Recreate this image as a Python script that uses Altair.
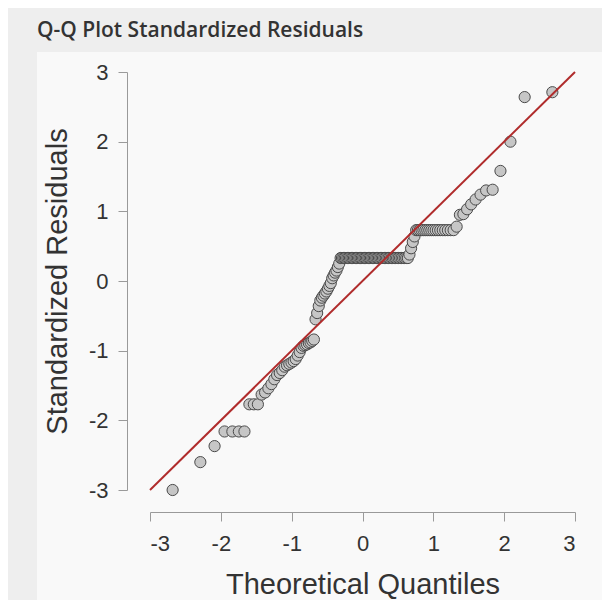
import altair as alt
import pandas as pd

chart_title = "Q-Q Plot Standardized Residuals"
x_title = "Theoretical Quantiles"
y_title = "Standardized Residuals"

# sorted standardized residuals (136 points)
residuals = (
    [-3.00, -2.60, -2.37]
    + [-2.16] * 4
    + [-1.77] * 3
    + [-1.63, -1.60, -1.54, -1.48, -1.41, -1.35, -1.32, -1.28, -1.23, -1.21,
       -1.19, -1.17, -1.15, -1.12, -1.07, -1.02, -0.96, -0.93, -0.92, -0.91,
       -0.89, -0.88, -0.86, -0.84]
    + [-0.55, -0.46, -0.36, -0.28, -0.24, -0.21, -0.18, -0.15, -0.11, -0.07,
       -0.03, 0.04, 0.08, 0.12, 0.15, 0.20, 0.25]
    + [0.33] * 50
    + [0.38, 0.47, 0.56, 0.64]
    + [0.73] * 18
    + [0.78, 0.95, 0.96, 1.03, 1.10, 1.17, 1.24, 1.30, 1.31, 1.58, 2.00, 2.64, 2.71]
)

ref_x = [-3, 3]
ref_y = [-3, 3]
x_ticks = [-3, -2, -1, 0, 1, 2, 3]
y_ticks = [-3, -2, -1, 0, 1, 2, 3]

W, H = 425, 418
PAD_L, PAD_T, PAD_R, PAD_B = 142, 64, 27, 110

df = pd.DataFrame({"resid": residuals})
line_df = pd.DataFrame({"x": ref_x, "y": ref_y})
panel_df = pd.DataFrame({"k": [0]})

FONT = "Liberation Sans"

xscale = alt.Scale(domain=[-3, 3], nice=False, zero=False)
yscale = alt.Scale(domain=[-3, 3], nice=False, zero=False)

xaxis = alt.Axis(values=x_ticks, offset=22, tickSize=9, grid=False, zindex=1,
                 domainColor="#9a9a9a", tickColor="#9a9a9a",
                 labelFontSize=22, labelColor="#333333", labelFont=FONT,
                 labelPadding=12, labelExpr="'' + datum.value",
                 title=x_title, titleFontSize=29, titleFont=FONT,
                 titleColor="#333333", titleFontWeight="normal", titlePadding=16)
yaxis = alt.Axis(values=y_ticks, offset=23, tickSize=9, grid=False, zindex=1,
                 domainColor="#9a9a9a", tickColor="#9a9a9a",
                 labelFontSize=22, labelColor="#333333", labelFont=FONT,
                 labelPadding=10, labelExpr="'' + datum.value",
                 title=y_title, titleFontSize=29, titleFont=FONT,
                 titleColor="#333333", titleFontWeight="normal", titlePadding=16)

panel = alt.Chart(panel_df).mark_rect(color="#f9f9f9").encode(
    x=alt.value(-113), x2=alt.value(W + PAD_R),
    y=alt.value(-20), y2=alt.value(H + PAD_B),
)

points = (
    alt.Chart(df)
    .transform_window(rank="row_number()", sort=[alt.SortField("resid", order="ascending")])
    .transform_joinaggregate(n="count()")
    .transform_calculate(theo="quantileNormal((datum.rank - 0.5) / datum.n)")
    .mark_circle(size=125, color="#c6c6c6", stroke="#4a4a4a", strokeWidth=1, opacity=1)
    .encode(
        x=alt.X("theo:Q", scale=xscale, axis=xaxis),
        y=alt.Y("resid:Q", scale=yscale, axis=yaxis),
    )
)

ref_line = alt.Chart(line_df).mark_line(color="#b02c2c", strokeWidth=2).encode(
    x=alt.X("x:Q", scale=xscale),
    y=alt.Y("y:Q", scale=yscale),
)

chart = (
    alt.layer(panel, points, ref_line)
    .properties(
        width=W, height=H,
        autosize=alt.AutoSizeParams(type="none"),
        padding={"left": PAD_L, "top": PAD_T, "right": PAD_R, "bottom": PAD_B},
        background="#eeeeee",
        title=alt.TitleParams(chart_title, anchor="start", fontSize=21, fontWeight=600,
                              font="Open Sans", color="#333333", offset=11),
    )
    .configure_view(stroke=None)
)

chart.save("out.html", embed_options={"renderer": "svg", "actions": False})
